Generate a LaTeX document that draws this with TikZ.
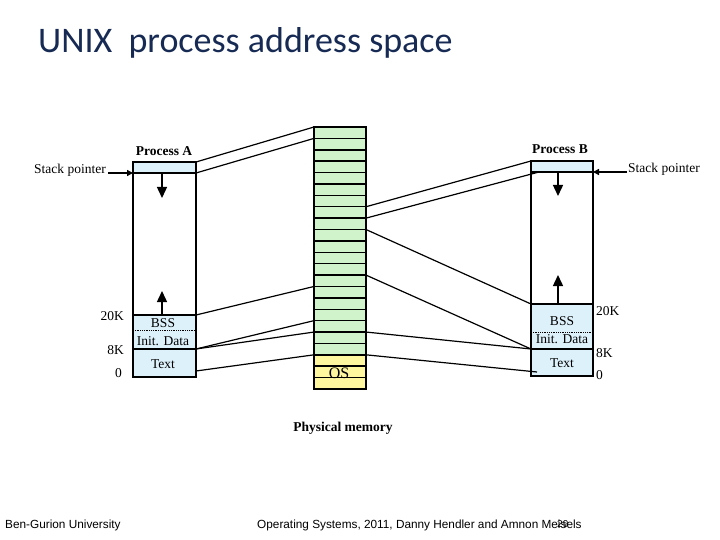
\documentclass[tikz,border=0pt]{standalone}
\usepackage{fontspec}
\setmainfont{Liberation Serif}
\newfontfamily\titlefont{Carlito}
\newfontfamily\footfont{Liberation Sans}
\usetikzlibrary{arrows.meta}
\definecolor{procblue}{RGB}{221,241,251}
\definecolor{memgreen}{RGB}{208,243,204}
\definecolor{memyellow}{RGB}{255,246,160}
\definecolor{titleblue}{RGB}{22,42,84}
\begin{document}
\begin{tikzpicture}[x=1pt,y=-1pt,
  box/.style={draw=black,line width=1.7pt},
  sep/.style={draw=black,line width=1.5pt},
  link/.style={draw=black,line width=1.2pt},
  growarrow/.style={line width=1.4pt,-{Triangle[length=11pt,width=10pt]}},
  ptrarrow/.style={line width=1.4pt,-{Triangle[length=6pt,width=6pt]}},
  lbl/.style={font=\fontsize{13.5}{15}\selectfont,inner sep=0pt},
  blbl/.style={font=\bfseries\fontsize{13.5}{15}\selectfont,inner sep=0pt},
  foot/.style={font=\footfont\fontsize{11.8}{13}\selectfont,inner sep=0pt,anchor=base west},
]
\useasboundingbox[fill=white] (0,0) rectangle (720,540);

% title
\node[anchor=base west, font=\titlefont\fontsize{36}{40}\selectfont, text=titleblue, inner sep=0pt] (title) at (38,53) {UNIX\ \ process address space};

% ---------- Process A ----------
\coordinate (A0) at (196,162);
\coordinate (A1) at (196,173);
\coordinate (A20) at (196,315);
\coordinate (A8) at (196,349);
\coordinate (Abot) at (196,371);
\coordinate (AspW) at (133,173);
\fill[procblue] (133,162) rectangle (196,173);
\fill[procblue] (133,315) rectangle (196,377);
\draw[densely dotted, line width=0.8pt] (133,330) -- (196,330);
\draw[sep] (AspW) -- (A1);
\draw[sep] (133,315) -- (A20);
\draw[sep] (133,349) -- (A8);
\draw[box] (133,162) rectangle (196,377);
\node[blbl] (pa) at (164,151) {Process A};
\node[lbl] (aBSS) at (163,323) {BSS};
\node[lbl] (aInit) at (163,341) {Init. Data};
\node[lbl] (aText) at (163,364) {Text};
\node[lbl, anchor=east] (a20k) at (124,316) {20K};
\node[lbl, anchor=east] (a8k) at (124,350) {8K};
\node[lbl, anchor=east] (a0) at (122,373) {0};
\node[lbl, anchor=east] (spA) at (106,170) {Stack pointer};
\coordinate (spAend) at (108,173);
\draw[ptrarrow] (spAend) -- (AspW);
\coordinate (AdnS) at (162,173);
\coordinate (AdnE) at (162,198);
\coordinate (AupS) at (162,315);
\coordinate (AupE) at (162,291);
\draw[growarrow] (AdnS) -- (AdnE);
\draw[growarrow] (AupS) -- (AupE);

% ---------- Process B ----------
\coordinate (Btop) at (531,161);
\coordinate (Bsp) at (539,172);
\coordinate (B20) at (531,304);
\coordinate (B8) at (531,349);
\coordinate (Bbot) at (537,372);
\coordinate (BspE) at (593,172);
\fill[procblue] (531,161) rectangle (593,172);
\fill[procblue] (531,304) rectangle (593,376);
\draw[densely dotted, line width=0.8pt] (531,332) -- (593,332);
\draw[sep] (531,172) -- (BspE);
\draw[sep] (B20) -- (593,304);
\draw[sep] (B8) -- (593,349);
\draw[box] (531,161) rectangle (593,376);
\node[blbl] (pb) at (560,149) {Process B};
\node[lbl] (bBSS) at (562,321) {BSS};
\node[lbl] (bInit) at (562,339) {Init. Data};
\node[lbl] (bText) at (562,363) {Text};
\node[lbl, anchor=west] (b20k) at (596,311) {20K};
\node[lbl, anchor=west] (b8k) at (596,353) {8K};
\node[lbl, anchor=west] (b0) at (596,375) {0};
\node[lbl, anchor=west] (spB) at (628,169) {Stack pointer};
\coordinate (spBend) at (627,172);
\draw[ptrarrow] (spBend) -- (BspE);
\coordinate (BdnS) at (558,172);
\coordinate (BdnE) at (558,196);
\coordinate (BupS) at (558,304);
\coordinate (BupE) at (558,275);
\draw[growarrow] (BdnS) -- (BdnE);
\draw[growarrow] (BupS) -- (BupE);

% ---------- Physical memory ----------
\foreach \k in {0,...,23} {
  \coordinate (mL\k) at (314,{127+11.391*\k});
  \coordinate (mR\k) at (366,{127+11.391*\k});
}
\fill[memgreen] (mL0) rectangle (mR20);
\fill[memyellow] (mL20) rectangle (mR23);
\foreach \k in {1,...,22} \draw[sep] (mL\k) -- (mR\k);
\draw[box] (mL0) rectangle (mR23);
\node[lbl, font=\fontsize{16}{18}\selectfont] (os) at (339,373) {OS};
\node[blbl] (pm) at (343,428) {Physical memory};

% ---------- mappings ----------
\draw[link] (A0) -- (mL0);
\draw[link] (A1) -- (mL1);
\draw[link] (A20) -- (mL14);
\draw[link] (A8) -- (mL17);
\draw[link] (A8) -- (mL18);
\draw[link] (Abot) -- (mL20);
\draw[link] (mR7) -- (Btop);
\draw[link] (mR8) -- (Bsp);
\draw[link] (mR9) -- (B20);
\draw[link] (mR13) -- (B8);
\draw[link] (mR18) -- (B8);
\draw[link] (mR20) -- (Bbot);

% ---------- footer ----------
\node[foot] (f1) at (5,528) {Ben-Gurion University};
\node[foot] (f2) at (257,528) {Operating Systems, 2011, Danny Hendler and Amnon Meisels};
\node[foot, font=\footfont\fontsize{10}{11}\selectfont] (pg) at (557,527) {29};
\end{tikzpicture}
\end{document}
